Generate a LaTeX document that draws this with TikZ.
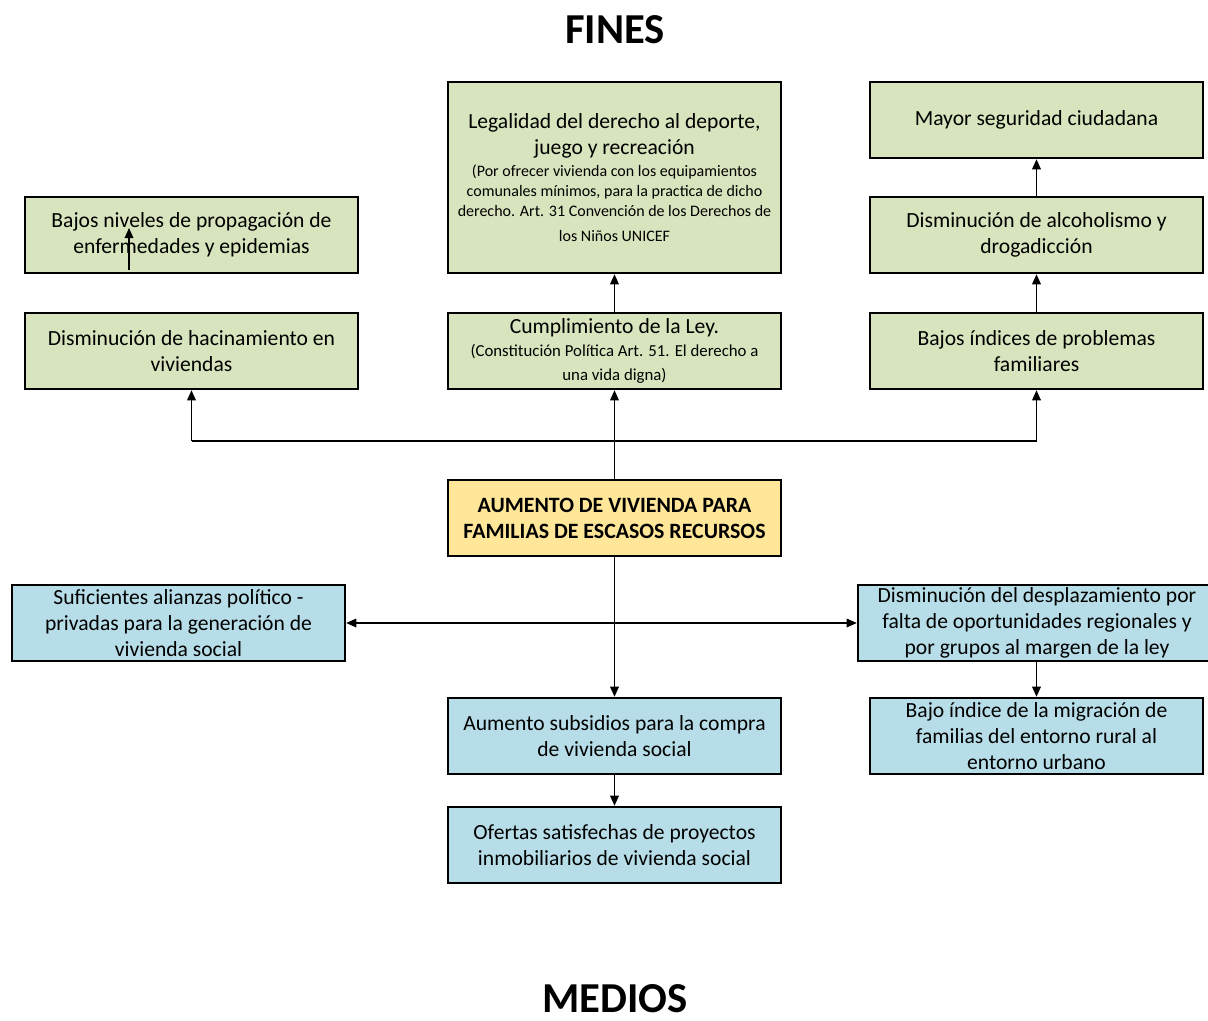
\documentclass[tikz,border=0pt]{standalone}
\usepackage{fontspec}
\setmainfont{Carlito}
\usetikzlibrary{arrows.meta}
\definecolor{finfill}{HTML}{D7E4BD}
\definecolor{medfill}{HTML}{B7DEE8}
\definecolor{corefill}{HTML}{FFE699}
\begin{document}
\begin{tikzpicture}[x=0.75pt,y=-0.75pt,
  box/.style={draw=black,line width=1.9pt,inner sep=0pt,align=flush center,
    minimum width=249.75pt,minimum height=57pt,text width=248pt,
    font=\fontsize{16.2}{19.5}\selectfont},
  fin/.style={box,fill=finfill},
  med/.style={box,fill=medfill},
  core/.style={box,fill=corefill,font=\bfseries\fontsize{16.4}{19.5}\selectfont},
  conn/.style={line width=0.8pt,-{Triangle[length=7.5pt,width=6.5pt]}},
  title/.style={font=\bfseries\fontsize{32}{36}\selectfont,anchor=base,inner sep=0.5pt}]
\useasboundingbox (0,0) rectangle (1208,1021);

% titles
\node[title] (fines) at (615,43) {FINES};
\node[title] (medios) at (615,1012) {MEDIOS};

% ends (fines)
\node[fin,minimum height=143.25pt] (legal) at (614.5,177.5)
  {Legalidad del derecho al deporte,\\juego y recreación\\[1pt]
   {\fontsize{12}{15.2}\selectfont (Por ofrecer vivienda con los equipamientos\\comunales mínimos, para la practica de dicho\\derecho. Art. 31 Convención de los Derechos de\\[3pt]los Niños UNICEF\par}};
\node[fin] (seguridad) at (1036.5,120) {Mayor seguridad ciudadana};
\node[fin] (propag) at (191.5,235) {Bajos niveles de propagación de\\enfermedades y epidemias};
\node[fin] (alcohol) at (1036.5,235) {Disminución de alcoholismo y\\drogadicción};
\node[fin] (hacina) at (191.5,351) {Disminución de hacinamiento en\\viviendas};
\node[fin] (ley) at (614.5,351) {Cumplimiento de la Ley.\\[2pt]
   {\fontsize{12.6}{15}\selectfont (Constitución Política Art. 51. El derecho a\\[3pt]una vida digna)\par}};
\node[fin] (familia) at (1036.5,351) {Bajos índices de problemas\\familiares};

% central problem
\node[core] (core) at (614.5,518) {AUMENTO DE VIVIENDA PARA\\FAMILIAS DE ESCASOS RECURSOS};

% means (medios)
\node[med] (alianzas) at (178.5,623) {Suficientes alianzas político -\\privadas para la generación de\\vivienda social};
\node[med,minimum width=268.5pt,text width=266pt] (desplaza) at (1037,623) {Disminución del desplazamiento por\\falta de oportunidades regionales y\\por grupos al margen de la ley};
\node[med] (subsidio) at (614.5,736) {Aumento subsidios para la compra\\de vivienda social};
\node[med] (migra) at (1036.5,736) {Bajo índice de la migración de\\familias del entorno rural al\\entorno urbano};
\node[med] (ofertas) at (614.5,845) {Ofertas satisfechas de proyectos\\inmobiliarios de vivienda social};

% upward connectors
\coordinate (upl) at (191.5,441);
\coordinate (upr) at (1036.5,441);
\draw[conn] (core.north) -- (ley.south);
\draw[line width=0.8pt] (upl) -- (upr);
\draw[conn] (upl) -- (hacina.south);
\draw[conn] (upr) -- (familia.south);
\draw[conn] (ley.north) -- (legal.south);
\draw[conn] (familia.north) -- (alcohol.south);
\draw[conn] (alcohol.north) -- (seguridad.south);

% small arrow inside the propagation box
\coordinate (pa) at (129,270);
\coordinate (pb) at (129,228);
\draw[conn] (pa) -- (pb);

% downward connectors
\coordinate (dnj) at (614.5,623);
\draw[conn] (core.south) -- (subsidio.north);
\draw[conn] (dnj) -- (alianzas.east);
\draw[conn] (dnj) -- (desplaza.west);
\draw[conn] (subsidio.south) -- (ofertas.north);
\draw[conn] (desplaza.south -| migra.north) -- (migra.north);
\end{tikzpicture}
\end{document}
